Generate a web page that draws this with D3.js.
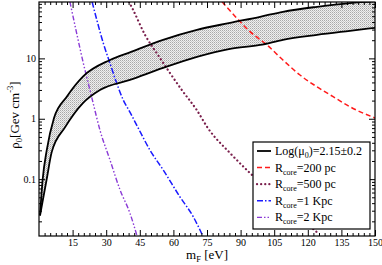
<!DOCTYPE html>
<html>
<head>
<meta charset="utf-8">
<script src="https://cdn.jsdelivr.net/npm/d3@7"></script>
<style>
  body { margin: 0; background: #fff; }
  svg { display: block; }
  text { font-family: "Liberation Serif", "DejaVu Serif", serif; fill: #000; }
</style>
</head>
<body>
<script>
const W = 382, H = 265;
const margin = {left: 39, right: 7, top: 2, bottom: 29};

// band: Log(mu0) = 2.15 +/- 0.2
const bandUpperM   = [0.45, 1.65, 3.44, 6.7, 12.4, 19.6, 31.7, 40.6, 55.4, 70.5, 85.3, 98.7, 108.9, 124.1, 138.8, 150];
const bandUpperRho = [0.025, 0.1, 0.30, 1.03, 2.32, 5.0, 9.4, 12.6, 20.3, 29.7, 38.8, 48.9, 59.2, 71.6, 82.4, 87.7];
const bandLowerM   = [0.45, 3.44, 5.67, 11.6, 19.6, 27.2, 40.6, 55.4, 70.5, 85.3, 98.7, 108.9, 124.1, 138.8, 150];
const bandLowerRho = [0.025, 0.1, 0.28, 0.72, 1.82, 3.0, 4.4, 6.95, 10.6, 14.4, 16.7, 20.3, 24.5, 28.6, 32.1];

// R_core curves
const r200M   = [81.7, 89.7, 94.2, 101.7, 108.9, 116.5, 124.0, 131.3, 138.8, 150];
const r200Rho = [86.7, 40.8, 27.8, 16.8, 9.4, 5.3, 3.4, 2.32, 1.58, 1.03];
const r500M   = [40.2, 42.0, 47.3, 53.1, 58.5, 64.3, 70.4, 75.4, 85.3, 94.2, 109, 124.1];
const r500Rho = [86, 63.8, 24.6, 11.4, 5.7, 2.81, 1.40, 0.70, 0.27, 0.126, 0.040, 0.0132];
const r1kM    = [23.7, 25.8, 28.7, 31.7, 34.7, 37.6, 40.6, 44.3, 49.6, 55.5, 62.9, 68.9, 73.2];
const r1kRho  = [86.7, 43.5, 17.9, 8.3, 3.87, 2.05, 1.29, 0.70, 0.30, 0.141, 0.051, 0.0237, 0.0113];
const r2kM    = [13.8, 16.8, 19.8, 22.0, 24.2, 27.2, 31.7, 36.2, 40.6, 43.8];
const r2kRho  = [86.7, 26.2, 8.3, 3.87, 1.80, 0.65, 0.207, 0.066, 0.0273, 0.0113];

const xMajor = [15, 30, 45, 60, 75, 90, 105, 120, 135, 150];
const yMajor = [0.1, 1, 10];

const zip = (a, b) => a.map((v, i) => [v, b[i]]);

const x = d3.scaleLinear().domain([0, 150]).range([margin.left, W - margin.right]);
const y = d3.scaleLog().domain([0.01143, 85.9]).range([H - margin.bottom, margin.top]);

const svg = d3.select('body').append('svg').attr('width', W).attr('height', H);

const defs = svg.append('defs');
defs.append('clipPath').attr('id', 'clip')
  .append('rect')
  .attr('x', x(0)).attr('y', y(85.9))
  .attr('width', x(150) - x(0)).attr('height', y(0.01143) - y(85.9));

// checker hatch like the grace pattern
const pat = defs.append('pattern').attr('id', 'hatch')
  .attr('patternUnits', 'userSpaceOnUse').attr('width', 2).attr('height', 2);
pat.append('rect').attr('width', 2).attr('height', 2).attr('fill', '#efefef');
pat.append('rect').attr('width', 1).attr('height', 1).attr('fill', '#a8a8a8');
pat.append('rect').attr('x', 1).attr('y', 1).attr('width', 1).attr('height', 1).attr('fill', '#c8c8c8');

const line = d3.line()
  .x(d => x(d[0]))
  .y(d => y(d[1]))
  .curve(d3.curveMonotoneX);

const plot = svg.append('g').attr('clip-path', 'url(#clip)');

// band fill
const upper = zip(bandUpperM, bandUpperRho);
const lower = zip(bandLowerM, bandLowerRho);
plot.append('path')
  .attr('d', line(upper) + line(lower.slice().reverse()).replace('M', 'L') + 'Z')
  .attr('fill', 'url(#hatch)');

const series = [
  {m: r200M, rho: r200Rho, color: '#ff1a1a', dash: '5,3', width: 1.5, cap: 'butt'},
  {m: r500M, rho: r500Rho, color: '#7a1f4c', dash: '0.1,4', width: 2.2, cap: 'round'},
  {m: r1kM, rho: r1kRho, color: '#1a1aff', dash: '6,2,1.5,2', width: 1.5, cap: 'butt'},
  {m: r2kM, rho: r2kRho, color: '#8a3ad6', dash: '5,2,1.5,2,1.5,2', width: 1.4, cap: 'butt'}
];

plot.selectAll('path.rcore')
  .data(series)
  .join('path')
  .attr('class', 'rcore')
  .attr('d', s => line(zip(s.m, s.rho)))
  .attr('fill', 'none')
  .attr('stroke', s => s.color)
  .attr('stroke-width', s => s.width)
  .attr('stroke-linecap', s => s.cap)
  .attr('stroke-dasharray', s => s.dash);

[upper, lower].forEach(pts => {
  plot.append('path')
    .attr('d', line(pts))
    .attr('fill', 'none')
    .attr('stroke', '#000')
    .attr('stroke-width', 1.8);
});

// axes, ticks pointing inwards on all four sides
const xMinor = d3.range(2.5, 150, 2.5).filter(v => v % 15 !== 0);
const yMinor = [];
[-2, -1, 0, 1].forEach(k => d3.range(2, 10).forEach(j => {
  const v = j * Math.pow(10, k);
  if (v > 0.01143 && v < 85.9) yMinor.push(v);
}));

const axisG = svg.append('g');
function ticks(gen, vals, size) {
  return gen.tickValues(vals).tickSizeInner(size).tickSizeOuter(0).tickPadding(3);
}
const fx = d3.format('d');
axisG.append('g').attr('transform', `translate(0,${y(0.01143)})`)
  .call(ticks(d3.axisBottom(x), xMinor, -3).tickFormat(''));
axisG.append('g').attr('transform', `translate(0,${y(0.01143)})`)
  .call(ticks(d3.axisBottom(x), xMajor, -6).tickFormat(fx).tickPadding(3));
axisG.append('g').attr('transform', `translate(0,${y(85.9)})`)
  .call(ticks(d3.axisTop(x), xMinor, -3).tickFormat(''));
axisG.append('g').attr('transform', `translate(0,${y(85.9)})`)
  .call(ticks(d3.axisTop(x), xMajor, -6).tickFormat(''));
axisG.append('g').attr('transform', `translate(${x(0)},0)`)
  .call(ticks(d3.axisLeft(y), yMinor, -3).tickFormat(''));
axisG.append('g').attr('transform', `translate(${x(0)},0)`)
  .call(ticks(d3.axisLeft(y), yMajor, -6).tickFormat(d => d < 1 ? '0.1' : String(d)).tickPadding(3));
axisG.append('g').attr('transform', `translate(${x(150)},0)`)
  .call(ticks(d3.axisRight(y), yMinor, -3).tickFormat(''));
axisG.append('g').attr('transform', `translate(${x(150)},0)`)
  .call(ticks(d3.axisRight(y), yMajor, -6).tickFormat(''));
axisG.selectAll('.domain').remove();
axisG.selectAll('line').attr('stroke', '#000').attr('stroke-width', 1);
axisG.selectAll('text').attr('font-family', '"Liberation Serif", serif').attr('font-size', 10);

svg.append('rect')
  .attr('x', x(0)).attr('y', y(85.9))
  .attr('width', x(150) - x(0)).attr('height', y(0.01143) - y(85.9))
  .attr('fill', 'none').attr('stroke', '#000').attr('stroke-width', 1.2);

// axis titles
const xl = svg.append('text')
  .attr('x', 207).attr('y', 259)
  .attr('text-anchor', 'middle').attr('font-size', 13);
xl.append('tspan').text('m');
xl.append('tspan').attr('font-size', 8.5).attr('dy', 3).text('F');
xl.append('tspan').attr('dy', -3).text(' [eV]');

const yl = svg.append('text')
  .attr('transform', 'translate(19,115) rotate(-90)')
  .attr('text-anchor', 'middle').attr('font-size', 13);
yl.append('tspan').text('ρ');
yl.append('tspan').attr('font-size', 8.5).attr('dy', 3).text('0');
yl.append('tspan').attr('dy', -3).text('[Gev cm');
yl.append('tspan').attr('font-size', 8.5).attr('dy', -6).text('-3');
yl.append('tspan').attr('dy', 6).text(']');

// legend
const legend = svg.append('g').attr('transform', 'translate(253,142)');
legend.append('rect')
  .attr('width', 117).attr('height', 87)
  .attr('fill', '#fff').attr('stroke', '#000').attr('stroke-width', 1.2);

const legendItems = [
  {s: null, parts: [['Log(μ', 0], ['0', 1], [')=2.15±0.2', 0]]},
  {s: series[0], parts: [['R', 0], ['core', 1], ['=200 pc', 0]]},
  {s: series[1], parts: [['R', 0], ['core', 1], ['=500 pc', 0]]},
  {s: series[2], parts: [['R', 0], ['core', 1], ['=1 Kpc', 0]]},
  {s: series[3], parts: [['R', 0], ['core', 1], ['=2 Kpc', 0]]}
];

legendItems.forEach((it, i) => {
  const cy = 9 + i * 16.6;
  legend.append('line')
    .attr('x1', 4).attr('x2', 18).attr('y1', cy).attr('y2', cy)
    .attr('stroke', it.s ? it.s.color : '#000')
    .attr('stroke-width', it.s ? it.s.width : 1.8)
    .attr('stroke-linecap', it.s ? it.s.cap : 'butt')
    .attr('stroke-dasharray', it.s ? it.s.dash : null);
  const t = legend.append('text').attr('x', 22).attr('y', cy + 4).attr('font-size', 12);
  let shift = 0;
  it.parts.forEach(([s, sub]) => {
    const dy = sub ? 3 - shift : -shift;
    shift = sub ? 3 : 0;
    t.append('tspan').attr('dy', dy).attr('font-size', sub ? 8 : 12).text(s);
  });
});
</script>
</body>
</html>
